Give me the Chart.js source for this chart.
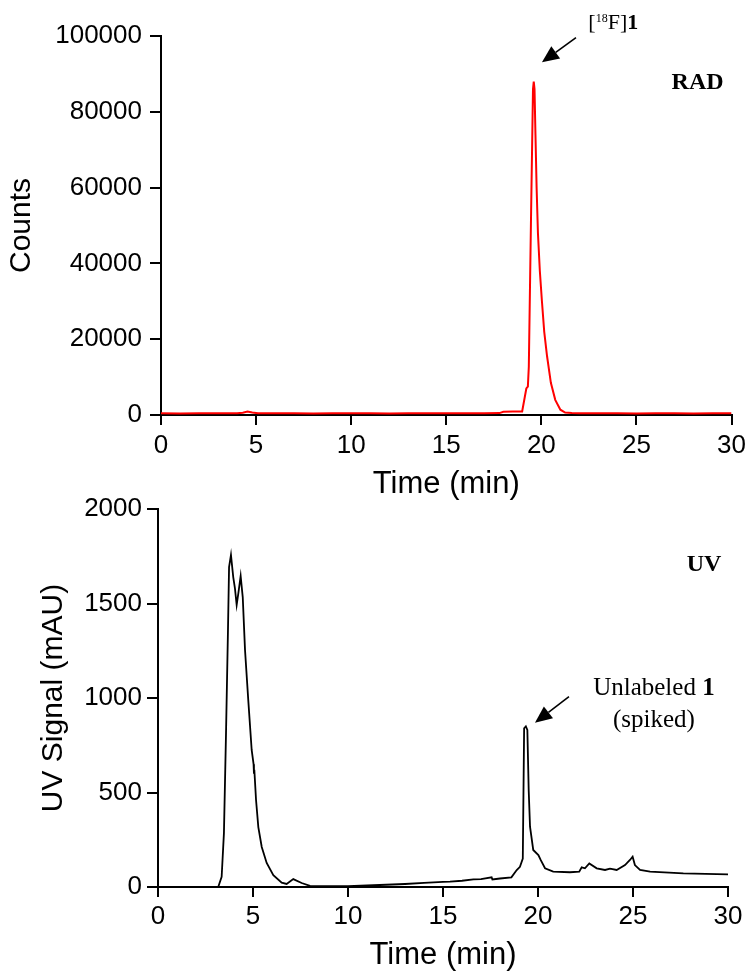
<!DOCTYPE html>
<html>
<head>
<meta charset="utf-8">
<script src="https://cdn.jsdelivr.net/npm/chart.js@4.4.1/dist/chart.umd.min.js"></script>
<style>
  html, body { margin: 0; padding: 0; background: #fff; }
  body { width: 751px; height: 975px; position: relative; overflow: hidden; }
  .box { position: absolute; left: 0; width: 751px; }
  #radBox { top: 0; height: 505px; }
  #uvBox { top: 480px; height: 495px; }
</style>
</head>
<body>
<div class="box" id="radBox"><canvas id="chart_rad"></canvas></div>
<div class="box" id="uvBox"><canvas id="chart_uv"></canvas></div>
<script>
// radio trace (counts vs time in min)
var radTime = [0, 1, 2, 3, 4, 4.3, 4.55, 4.8, 5.1, 6, 7, 8, 9, 10, 11, 12, 13, 14, 15, 16, 17,
  17.8, 18.0, 18.5, 18.99, 19.21, 19.29, 19.34, 19.45, 19.56, 19.6, 19.64, 19.69, 19.75, 19.82,
  19.92, 20.03, 20.15, 20.3, 20.5, 20.73, 21.0, 21.25, 21.6, 22, 23, 24, 25, 26, 27, 28, 29, 30];
var radCounts = [450, 420, 480, 430, 480, 600, 900, 650, 480, 430, 460, 420, 440, 430, 450, 420, 440, 430, 450, 440, 460,
  500, 850, 900, 950, 7000, 7500, 12700, 50000, 86000, 88000, 86000, 74000, 60000, 48000,
  38000, 30000, 22000, 15500, 8500, 4000, 1400, 650, 500, 450, 430, 440, 420, 430, 440, 420, 430, 430];

// UV trace (mAU vs time in min)
var uvTime = [0, 1, 2, 3, 3.17, 3.35, 3.47, 3.58, 3.68, 3.74, 3.84, 3.96, 4.05, 4.14, 4.23, 4.35, 4.46,
  4.58, 4.75, 4.93, 5.03, 5.05, 5.07, 5.16, 5.28, 5.46, 5.72, 6.07, 6.51, 6.77, 7.12, 7.56, 8,
  9, 10, 11, 12, 13, 14, 15, 15.37, 16, 16.6, 17, 17.56, 17.6, 18, 18.6, 18.88, 19.05, 19.2,
  19.27, 19.36, 19.44, 19.51, 19.58, 19.75, 20.02, 20.14, 20.37, 20.8, 21.68, 22.17, 22.3, 22.47,
  22.7, 23.09, 23.53, 23.79, 24.14, 24.58, 24.84, 24.98, 25.1, 25.37, 25.9, 27.65, 30];
var uvSignal = [0, 0, 0, 0, 0, 54, 285, 815, 1344, 1693, 1757, 1640, 1580, 1492, 1555, 1645, 1534,
  1254, 990, 725, 650, 600, 620, 460, 317, 212, 127, 63, 23, 16, 42, 21, 6,
  5, 5, 8, 12, 16, 22, 27, 28, 33, 40, 42, 51, 40, 45, 51, 90, 107, 150,
  840, 850, 831, 513, 319, 196, 169, 143, 99, 81, 78, 81, 104, 99,
  125, 99, 90, 97, 90, 116, 143, 160, 116, 90, 81, 72, 67];

var xTicks = [0, 5, 10, 15, 20, 25, 30];

function points(xs, ys) {
  return xs.map(function(x, i) { return {x: x, y: ys[i]}; });
}

Chart.defaults.color = '#000';
Chart.defaults.font.family = '"Liberation Sans", Arial, sans-serif';

var serif = '"Liberation Serif", "Times New Roman", serif';

// draws text labels and arrows in data coordinates
var notesPlugin = {
  id: 'notes',
  afterDatasetsDraw: function(chart) {
    var cfg = chart.options.plugins.notes;
    if (!cfg) return;
    var ctx = chart.ctx;
    var xs = chart.scales.x, ys = chart.scales.y;
    ctx.save();
    ctx.fillStyle = '#000';
    ctx.strokeStyle = '#000';
    ctx.textBaseline = 'alphabetic';
    (cfg.texts || []).forEach(function(t) {
      var px = xs.getPixelForValue(t.x), py = ys.getPixelForValue(t.y);
      var total = 0;
      t.parts.forEach(function(p) { ctx.font = p.font; total += ctx.measureText(p.text).width; });
      var cx = t.align === 'center' ? px - total / 2 : (t.align === 'right' ? px - total : px);
      t.parts.forEach(function(p) {
        ctx.font = p.font;
        ctx.fillText(p.text, cx, py + (p.dy || 0));
        cx += ctx.measureText(p.text).width;
      });
    });
    (cfg.arrows || []).forEach(function(a) {
      var x0 = xs.getPixelForValue(a.from[0]), y0 = ys.getPixelForValue(a.from[1]);
      var x1 = xs.getPixelForValue(a.to[0]), y1 = ys.getPixelForValue(a.to[1]);
      var ang = Math.atan2(y1 - y0, x1 - x0);
      var hl = 17, hw = 7.5;
      var bx = x1 - hl * Math.cos(ang), by = y1 - hl * Math.sin(ang);
      ctx.lineWidth = 1.6;
      ctx.beginPath();
      ctx.moveTo(x0, y0);
      ctx.lineTo(bx, by);
      ctx.stroke();
      ctx.beginPath();
      ctx.moveTo(x1, y1);
      ctx.lineTo(bx + hw * Math.sin(ang), by - hw * Math.cos(ang));
      ctx.lineTo(bx - hw * Math.sin(ang), by + hw * Math.cos(ang));
      ctx.closePath();
      ctx.fill();
    });
    ctx.restore();
  }
};

function axisX(height, tickPad, titlePad) {
  return {
    type: 'linear',
    min: 0,
    max: 30,
    afterFit: function(s) { s.height = height; },
    afterBuildTicks: function(s) { s.ticks = xTicks.map(function(v) { return {value: v}; }); },
    border: { color: '#000', width: 2 },
    grid: { drawOnChartArea: false, color: '#000', lineWidth: 2, tickLength: 10 },
    ticks: { font: { size: 26 }, padding: tickPad, maxRotation: 0 },
    title: { display: true, text: 'Time (min)', font: { size: 31 }, padding: { top: 0, bottom: titlePad } }
  };
}

function axisY(width, max, step, text, titlePad, tickPad) {
  return {
    type: 'linear',
    min: 0,
    max: max,
    afterFit: function(s) { s.width = width; },
    border: { color: '#000', width: 2 },
    grid: { drawOnChartArea: false, color: '#000', lineWidth: 2, tickLength: 11 },
    ticks: { font: { size: 26 }, stepSize: step, padding: tickPad, callback: function(v) { return String(v); } },
    title: { display: true, text: text, font: { size: 30 }, padding: { top: titlePad, bottom: 0 } }
  };
}

var chart_rad = new Chart(document.getElementById('chart_rad'), {
  type: 'line',
  data: {
    datasets: [{
      label: 'RAD',
      data: points(radTime, radCounts),
      borderColor: '#ff0000',
      borderWidth: 2,
      pointRadius: 0,
      tension: 0
    }]
  },
  options: {
    animation: false,
    responsive: true,
    maintainAspectRatio: false,
    layout: { padding: { left: 0, right: 15, top: 36, bottom: 0 } },
    plugins: {
      legend: { display: false },
      tooltip: { enabled: false },
      notes: {
        texts: [
          { x: 22.47, y: 101900, align: 'left', parts: [
            { text: '[', font: '22px ' + serif },
            { text: '18', font: '12px ' + serif, dy: -6.6 },
            { text: 'F]', font: '22px ' + serif },
            { text: '1', font: 'bold 22px ' + serif }
          ] },
          { x: 29.58, y: 85937, align: 'right', parts: [ { text: 'RAD', font: 'bold 24px ' + serif } ] }
        ],
        arrows: [ { from: [21.82, 99550], to: [20.03, 93060] } ]
      }
    },
    scales: {
      x: axisX(90, 5, 2),
      y: axisY(161, 100000, 20000, 'Counts', 4, 8)
    }
  },
  plugins: [notesPlugin]
});

var chart_uv = new Chart(document.getElementById('chart_uv'), {
  type: 'line',
  data: {
    datasets: [{
      label: 'UV',
      data: points(uvTime, uvSignal),
      borderColor: '#000',
      borderWidth: 1.8,
      pointRadius: 0,
      tension: 0
    }]
  },
  options: {
    animation: false,
    responsive: true,
    maintainAspectRatio: false,
    layout: { padding: { left: 0, right: 23, top: 29, bottom: 0 } },
    plugins: {
      legend: { display: false },
      tooltip: { enabled: false },
      notes: {
        texts: [
          { x: 28.74, y: 1673, align: 'center', parts: [ { text: 'UV', font: 'bold 24px ' + serif } ] },
          { x: 26.1, y: 1016, align: 'center', parts: [
            { text: 'Unlabeled ', font: '25px ' + serif },
            { text: '1', font: 'bold 25px ' + serif }
          ] },
          { x: 26.1, y: 847, align: 'center', parts: [ { text: '(spiked)', font: '25px ' + serif } ] }
        ],
        arrows: [ { from: [21.63, 1007], to: [19.84, 869] } ]
      }
    },
    scales: {
      x: axisX(88, 4, 1),
      y: axisY(158, 2000, 500, 'UV Signal (mAU)', 36, 5)
    }
  },
  plugins: [notesPlugin]
});
</script>
</body>
</html>
